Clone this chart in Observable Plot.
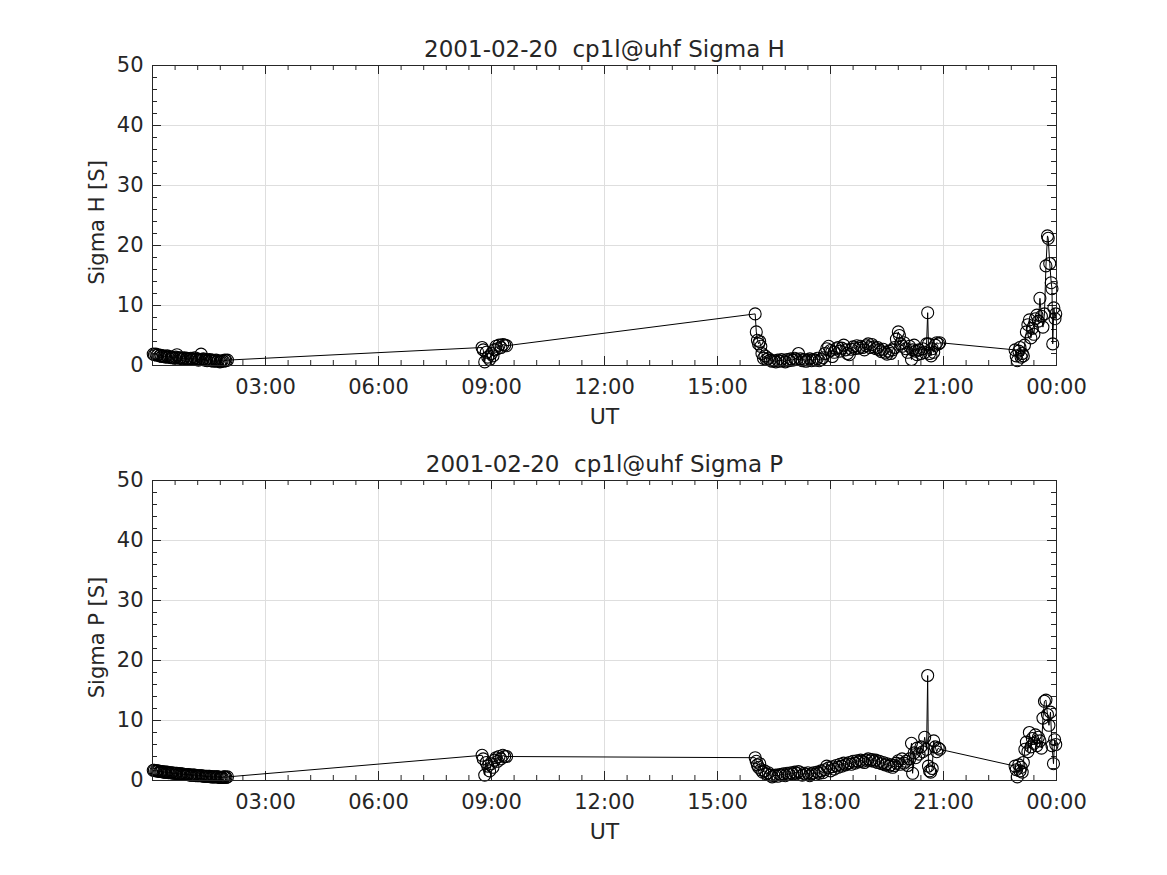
<!DOCTYPE html>
<html>
<head>
<meta charset="utf-8">
<script src="https://cdn.jsdelivr.net/npm/d3@7"></script>
<script src="https://cdn.jsdelivr.net/npm/@observablehq/plot@0.6"></script>
<style>
  html, body { margin: 0; padding: 0; background: #fff; }
  #chart svg { display: block; }
  #chart svg text { white-space: pre; }
</style>
</head>
<body>
<div id="chart"></div>
<script>
// ---- Data (UT in decimal hours, conductance in S) ----
const dateLabel = "2001-02-20";
const siteLabel = "cp1l@uhf";

const earlyTimes = [
  0.02,0.05,0.09,0.12,0.15,0.19,0.22,0.25,0.29,0.32,0.35,0.39,0.42,0.45,0.49,0.52,0.55,0.59,0.62,0.65,
  0.69,0.72,0.75,0.79,0.82,0.85,0.89,0.92,0.95,0.99,1.02,1.05,1.09,1.12,1.15,1.19,1.22,1.25,1.29,1.32,
  1.35,1.39,1.42,1.45,1.49,1.52,1.55,1.59,1.62,1.65,1.69,1.72,1.75,1.79,1.82,1.85,1.89,1.92,1.95,1.99
];

const sigmaHTimes = [
  ...earlyTimes,
  8.75,8.78,8.82,8.86,8.90,8.95,9.00,9.04,9.08,9.12,9.16,9.20,9.25,9.30,9.35,9.40,
  16.00,16.03,16.06,16.09,16.12,16.15,16.18,16.22,16.26,16.30,16.35,16.40,16.45,16.50,16.55,16.60,16.65,16.70,16.75,16.80,
  16.85,16.90,16.95,17.00,17.05,17.10,17.15,17.20,17.25,17.30,17.35,17.40,17.45,17.50,17.55,17.60,17.65,17.70,17.75,17.80,
  17.85,17.90,17.95,18.00,18.05,18.10,18.15,18.20,18.25,18.30,18.35,18.40,18.45,18.50,18.55,18.60,18.65,18.70,18.75,18.80,
  18.85,18.90,18.95,19.00,19.05,19.10,19.15,19.20,19.25,19.30,19.35,19.40,19.45,19.50,19.55,19.60,19.65,19.70,19.75,19.80,
  19.83,19.86,19.90,19.95,20.00,20.05,20.10,20.15,20.18,20.22,20.26,20.30,20.35,20.40,20.45,20.50,20.55,20.58,20.60,20.63,
  20.67,20.70,20.74,20.78,20.82,20.87,20.90,
  22.90,22.93,22.96,23.00,23.03,23.06,23.09,23.12,23.15,23.20,23.24,23.28,23.32,23.36,23.40,23.44,23.48,23.52,23.56,23.60,
  23.64,23.68,23.72,23.76,23.78,23.82,23.86,23.88,23.90,23.93,23.96,23.98
];
const sigmaHValues = [
  1.9,1.8,1.9,1.7,1.8,1.6,1.7,1.5,1.6,1.5,1.4,1.6,1.4,1.5,1.3,1.4,1.3,1.2,1.4,1.8,
  1.3,1.2,1.3,1.1,1.2,1.3,1.1,1.2,1.0,1.1,1.2,1.0,1.1,1.3,1.0,1.1,0.9,1.0,1.9,1.0,
  1.1,0.9,1.0,0.8,0.9,1.0,0.8,0.9,0.7,0.8,0.9,0.7,0.8,0.6,0.7,0.8,0.7,0.9,0.8,0.9,
  3.0,2.6,0.6,2.2,1.4,1.0,2.0,1.6,2.6,3.2,2.8,3.4,3.0,3.5,3.4,3.3,
  8.6,5.6,4.2,3.6,4.0,3.2,2.0,1.2,1.6,1.0,1.2,0.9,0.7,0.8,0.6,0.9,0.7,1.0,0.8,0.6,
  1.0,0.8,1.1,0.9,1.2,1.0,2.0,1.1,0.8,1.0,0.7,0.9,1.1,0.8,1.0,0.9,1.2,0.8,1.0,1.3,
  2.0,2.8,3.2,2.5,1.5,2.2,2.8,3.0,2.4,2.9,3.4,2.6,2.0,1.8,2.7,3.1,2.8,3.3,2.9,3.2,
  3.0,2.6,3.3,3.6,3.0,3.5,3.1,2.8,3.0,2.6,2.3,2.7,2.2,1.9,2.4,2.0,2.6,3.0,4.4,5.6,
  5.0,3.6,3.2,3.8,2.8,2.2,3.2,1.0,2.6,3.4,2.4,1.8,2.6,2.0,2.8,2.2,3.6,8.8,3.6,2.0,
  1.6,2.8,2.2,3.4,3.8,3.6,3.8,
  2.6,1.6,0.8,2.4,3.0,1.4,2.0,1.6,3.4,5.6,6.8,7.6,4.6,6.2,5.2,7.8,8.4,7.4,11.2,8.2,
  6.4,8.6,16.6,21.6,21.2,17.0,13.8,12.8,3.6,9.6,7.8,8.6
];

const sigmaPTimes = [
  ...earlyTimes,
  8.75,8.78,8.82,8.86,8.90,8.95,9.00,9.04,9.08,9.12,9.16,9.20,9.25,9.30,9.35,9.40,
  16.00,16.03,16.06,16.09,16.12,16.15,16.20,16.25,16.30,16.35,16.40,16.45,16.50,16.55,16.60,16.65,16.70,16.75,16.80,16.85,
  16.90,16.95,17.00,17.05,17.10,17.15,17.20,17.25,17.30,17.35,17.40,17.45,17.50,17.55,17.60,17.65,17.70,17.75,17.80,17.85,
  17.90,17.95,18.00,18.05,18.10,18.15,18.20,18.25,18.30,18.35,18.40,18.45,18.50,18.55,18.60,18.65,18.70,18.75,18.80,18.85,
  18.90,18.95,19.00,19.05,19.10,19.15,19.20,19.25,19.30,19.35,19.40,19.45,19.50,19.55,19.60,19.65,19.70,19.75,19.80,19.85,
  19.90,19.95,20.00,20.05,20.10,20.15,20.18,20.22,20.26,20.30,20.35,20.40,20.45,20.50,20.55,20.58,20.60,20.63,20.66,20.70,
  20.74,20.78,20.82,20.86,20.90,
  22.90,22.93,22.96,23.00,23.03,23.06,23.09,23.12,23.16,23.20,23.24,23.28,23.32,23.36,23.40,23.44,23.48,23.52,23.56,23.60,
  23.64,23.68,23.72,23.76,23.80,23.84,23.88,23.92,23.95,23.98
];
const sigmaPValues = [
  1.7,1.7,1.6,1.6,1.6,1.5,1.5,1.5,1.4,1.4,1.4,1.4,1.3,1.3,1.3,1.3,1.2,1.2,1.2,1.2,
  1.1,1.1,1.1,1.1,1.0,1.0,1.0,1.0,1.0,0.9,0.9,0.9,0.9,0.9,0.8,0.8,0.8,0.8,0.8,0.8,
  0.7,0.7,0.7,0.7,0.7,0.7,0.6,0.6,0.6,0.6,0.6,0.6,0.6,0.5,0.5,0.5,0.6,0.6,0.5,0.6,
  4.2,3.6,0.9,3.0,2.4,1.6,2.8,2.2,3.4,3.8,3.2,4.0,3.6,4.2,4.0,4.0,
  3.8,3.2,2.6,2.2,2.8,1.8,1.4,1.6,1.1,1.3,0.9,0.6,0.8,0.9,0.7,1.0,0.9,1.1,0.8,1.2,
  1.0,1.3,1.1,1.4,1.2,1.5,1.3,0.9,1.2,1.0,1.3,0.8,1.1,1.3,1.0,1.4,1.2,1.6,1.3,1.8,
  2.4,2.1,1.6,2.3,1.9,2.5,2.2,2.7,2.4,2.9,2.6,2.8,3.0,2.7,3.2,2.9,3.3,3.1,3.4,3.2,
  3.0,3.4,3.6,3.3,3.5,3.2,3.4,3.0,3.2,2.8,3.0,2.6,2.8,2.4,2.6,2.2,2.5,2.9,3.3,2.7,
  3.6,2.9,3.2,2.5,3.6,6.2,1.2,4.6,3.8,5.4,4.4,5.6,4.8,7.2,5.2,17.5,2.4,1.6,1.4,2.0,
  6.6,5.6,4.8,5.4,5.2,
  2.4,1.8,0.6,2.6,1.6,2.2,1.4,3.0,5.2,6.4,4.8,8.0,5.6,7.0,6.2,7.6,5.8,7.2,6.6,5.4,
  10.4,13.2,13.4,11.0,9.2,11.4,5.8,2.8,6.8,6.0
];

// Axis tick values and labels
const xTickHours = [3, 6, 9, 12, 15, 18, 21, 24];
const xTickLabels = ["03:00", "06:00", "09:00", "12:00", "15:00", "18:00", "21:00", "00:00"];
const yTicks = [0, 10, 20, 30, 40, 50];

// ---- Drawing ----
const plotW = 904, plotH = 300;
const ink = "#262626";
const gridColor = "#dedede";
const font = "DejaVu Sans";
const fs = 21;
const titleFs = 23;
const majLen = 9, minLen = 5;
const xMinor = d3.range(0.6, 24, 0.6).filter(h => Math.abs(h / 3 - Math.round(h / 3)) > 1e-6);
const yMinor = d3.range(2, 50, 2).filter(v => v % 10 !== 0);
const xMajorInner = xTickHours.filter(h => h < 24);
const yMajorInner = yTicks.filter(v => v > 0 && v < 50);

function panel(times, values, title, ylabel, marginTop, marginBottom) {
  const data = times.map((t, i) => ({t, v: values[i]}));
  const fmt = h => xTickLabels[xTickHours.indexOf(h)];
  return Plot.plot({
    width: 1167,
    height: marginTop + plotH + marginBottom,
    marginLeft: 152, marginRight: 111, marginTop, marginBottom,
    x: {domain: [0, 24]},
    y: {domain: [0, 50]},
    style: {fontFamily: font, fontSize: fs + "px", color: ink, background: "white", overflow: "visible"},
    marks: [
      Plot.ruleX(xMajorInner, {x: d => d, stroke: gridColor, strokeWidth: 1}),
      Plot.ruleY(yMajorInner, {y: d => d, stroke: gridColor, strokeWidth: 1}),
      // inward ticks (bottom / top)
      Plot.tickX(xMajorInner, {x: d => d, stroke: ink, insetTop: plotH - majLen}),
      Plot.tickX(xMajorInner, {x: d => d, stroke: ink, insetBottom: plotH - majLen}),
      Plot.tickX(xMinor, {x: d => d, stroke: ink, insetTop: plotH - minLen}),
      Plot.tickX(xMinor, {x: d => d, stroke: ink, insetBottom: plotH - minLen}),
      // inward ticks (left / right)
      Plot.tickY(yMajorInner, {y: d => d, stroke: ink, insetRight: plotW - majLen}),
      Plot.tickY(yMajorInner, {y: d => d, stroke: ink, insetLeft: plotW - majLen}),
      Plot.tickY(yMinor, {y: d => d, stroke: ink, insetRight: plotW - minLen}),
      Plot.tickY(yMinor, {y: d => d, stroke: ink, insetLeft: plotW - minLen}),
      Plot.line(data, {x: "t", y: "v", stroke: "black", strokeWidth: 1}),
      Plot.dot(data, {x: "t", y: "v", r: 6, stroke: "black", strokeWidth: 1.1, fill: "none"}),
      Plot.frame({stroke: ink, strokeWidth: 1}),
      Plot.axisX({ticks: xTickHours, tickFormat: fmt, tickSize: 0, tickPadding: 14, label: null, fill: ink, fontSize: fs}),
      Plot.axisY({ticks: yTicks, tickSize: 0, tickPadding: 9, label: null, fill: ink, fontSize: fs}),
      Plot.text([title], {frameAnchor: "top", dy: -25, text: d => d, fill: ink, fontSize: titleFs}),
      Plot.text(["UT"], {frameAnchor: "bottom", dy: 58, text: d => d, fill: ink, fontSize: titleFs - 1}),
      Plot.text([ylabel], {frameAnchor: "left", textAnchor: "middle", dx: -55, dy: 7, rotate: -90, text: d => d, fill: ink, fontSize: fs})
    ]
  });
}

const root = document.getElementById("chart");
root.append(panel(sigmaHTimes, sigmaHValues, `${dateLabel}  ${siteLabel} Sigma H`, "Sigma H [S]", 65, 75));
root.append(panel(sigmaPTimes, sigmaPValues, `${dateLabel}  ${siteLabel} Sigma P`, "Sigma P [S]", 40, 95));
</script>
</body>
</html>
